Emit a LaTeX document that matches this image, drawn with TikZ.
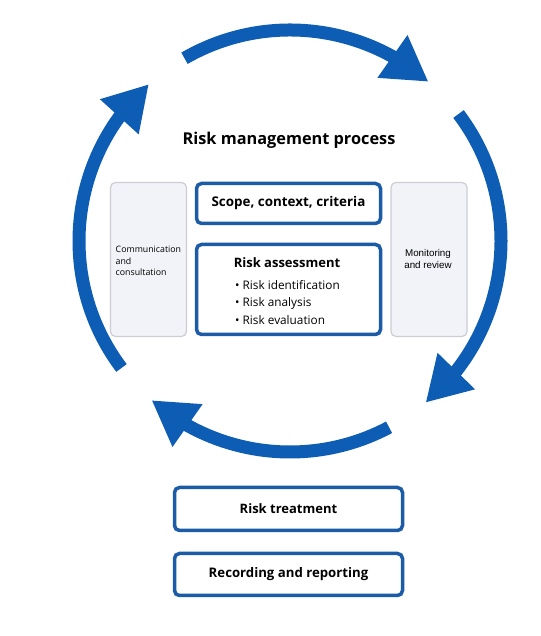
\documentclass[tikz,border=0pt]{standalone}
\usepackage{fontspec}
\setmainfont{Open Sans}
\newfontfamily\helv{Liberation Sans}
\usetikzlibrary{arrows.meta,bending}
\definecolor{arrblue}{HTML}{0D5DB5}
\definecolor{boxblue}{HTML}{1C5BA6}
\definecolor{sidefill}{HTML}{F2F3F8}
\definecolor{sidedraw}{HTML}{CDCED3}
\begin{document}
\begin{tikzpicture}[x=1pt,y=1pt,
  cyc/.style={draw=arrblue, line width=13pt, -{Triangle[width=49pt,length=44pt]}},
  bluebox/.style={draw=boxblue, line width=3.5pt, rounded corners=5pt, fill=white, inner sep=0pt},
  sidebox/.style={draw=sidedraw, line width=1.2pt, fill=sidefill, rounded corners=5pt, inner sep=0pt, minimum width=76pt, minimum height=154pt},
  lbl/.style={inner sep=0pt, text=black}
]
\useasboundingbox (0,0) rectangle (540,636);
\fill[white] (0,0) rectangle (540,636);
\coordinate (c) at (290,395);
% cycle arrows
\draw[cyc] (c) ++(120:211) arc[start angle=120, end angle=49, radius=211];
\draw[cyc] (c) ++(37:211) arc[start angle=37, end angle=-50, radius=211];
\draw[cyc] (c) ++(-62:211) arc[start angle=-62, end angle=-131, radius=211];
\draw[cyc] (c) ++(-143:211) arc[start angle=-143, end angle=-228, radius=211];
% title
\node[lbl, font=\bfseries\fontsize{16.3}{19}\selectfont] (title) at (289,496) {Risk management process};
% side boxes
\node[sidebox] (comm) at (148.5,376.5) {};
\node[sidebox] (mon) at (429,376.5) {};
\node[lbl, anchor=west, align=left, font=\fontsize{8.8}{11.8}\selectfont] (commt) at (115.5,375) {Communication\\and\\consultation};
\node[lbl, align=center, font=\helv\fontsize{9.8}{12}\selectfont] (mont) at (428,377) {Monitoring\\and review};
% central boxes
\node[bluebox, minimum width=184pt, minimum height=40pt] (scope) at (288.5,432.5) {};
\node[lbl, font=\bfseries\fontsize{13.4}{16}\selectfont] (scopet) at (scope) {Scope, context, criteria};
\node[bluebox, minimum width=184pt, minimum height=90pt] (assess) at (288.5,346.5) {};
\node[lbl, font=\bfseries\fontsize{13}{16}\selectfont] (assesst) at (287,373) {Risk assessment};
\node[lbl, anchor=north west, align=left, font=\fontsize{11.8}{17.5}\selectfont] (bul) at (235,356) {\textbullet\ Risk identification\\\textbullet\ Risk analysis\\\textbullet\ Risk evaluation};
% bottom boxes
\node[bluebox, minimum width=228pt, minimum height=43pt] (treat) at (288.5,127) {};
\node[lbl, font=\bfseries\fontsize{13}{16}\selectfont] (treatt) at (treat) {Risk treatment};
\node[bluebox, minimum width=228pt, minimum height=42pt] (rec) at (288.5,61.5) {};
\node[lbl, font=\bfseries\fontsize{13.2}{16}\selectfont] (rect) at (rec) {Recording and reporting};
\end{tikzpicture}
\end{document}
